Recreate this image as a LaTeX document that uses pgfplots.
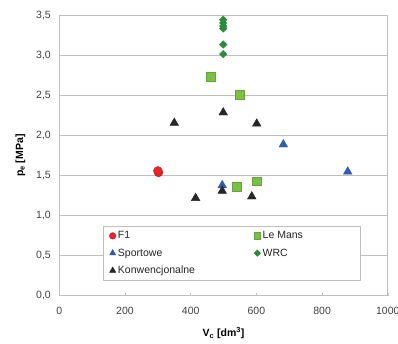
\documentclass[border=0pt]{standalone}
\usepackage{fontspec}
\setmainfont{Liberation Sans}
\usepackage{pgfplots}
\pgfplotsset{compat=1.18}

\definecolor{gridgray}{RGB}{190,190,190}
\definecolor{fone}{RGB}{232,38,42}
\definecolor{sport}{RGB}{46,92,172}
\definecolor{lemans}{RGB}{122,192,68}
\definecolor{wrc}{RGB}{42,140,58}
\definecolor{konw}{RGB}{38,38,38}

\newcommand{\colA}[1]{\makebox[134pt][l]{#1}}
\newcommand{\colB}[1]{\makebox[90pt][l]{#1}}

\begin{document}
\begin{tikzpicture}
\begin{axis}[
    scale only axis,
    width=328.5pt, height=280pt,
    xmin=0, xmax=1000, ymin=0, ymax=3.5,
    xtick={0,200,...,1000},
    ytick={0,0.5,...,3.5},
    ymajorgrids, grid style={gridgray, line width=0.8pt},
    axis line style={gridgray, line width=0.8pt},
    tick style={gridgray, line width=0.6pt},
    xtick pos=bottom, ytick pos=left,
    xtick align=inside, ytick align=inside,
    major tick length=3pt,
    ytick style={draw=none},
    /pgf/number format/assume math mode=true,
    ticklabel style={font=\fontsize{10.5}{12}\selectfont, text=black!75},
    yticklabel style={/pgf/number format/.cd, use comma, fixed, fixed zerofill, precision=1},
    xticklabel style={/pgf/number format/.cd, fixed, 1000 sep={}},
    xticklabel shift=8pt, yticklabel shift=5pt,
    xlabel={\textbf{V\textsubscript{c} [dm\textsuperscript{3}]}},
    ylabel={\textbf{p\textsubscript{e} [MPa]}},
    label style={font=\fontsize{10.5}{12}\selectfont},
    xlabel style={at={(axis description cs:0.5,0)}, anchor=center, yshift=-37.5pt},
    ylabel style={at={(axis description cs:0,0.5)}, anchor=center, xshift=0pt, yshift=39pt},
    legend columns=2,
    legend cell align=left,
    legend style={at={(axis cs:133,0.87)}, anchor=north west,
        draw=gridgray, line width=0.8pt, inner xsep=6pt, inner ysep=3pt,
        font=\fontsize{10.5}{12}\selectfont, text=black!85,
        row sep=4.5pt},
    legend image code/.code={\draw[#1, mark size=3.3pt] plot coordinates {(0.12cm,0cm)};},
]
\addplot[only marks, mark=*, mark size=4.4pt, color=fone, mark options={draw=fone!80!black, line width=0.4pt}]
  coordinates {(302,1.54) (300,1.56)};
\addlegendentry{\colA{F1}}
\addplot[only marks, mark=square*, mark size=4.3pt, color=lemans, mark options={draw=lemans!85!black, line width=0.4pt}]
  coordinates {(461,2.74) (550,2.51) (540,1.36) (601,1.43)};
\addlegendentry{\colB{Le Mans}}
\addplot[only marks, mark=triangle*, mark size=5pt, color=sport]
  coordinates {(682,1.89) (878,1.55) (496,1.38)};
\addlegendentry{\colA{Sportowe}}
\addplot[only marks, mark=diamond*, mark size=3.8pt, color=wrc, mark options={line width=0.3pt, xscale=1.35}]
  coordinates {(499,3.45) (499,3.41) (499,3.37) (499,3.34) (499,3.14) (499,3.02)};
\addlegendentry{\colB{WRC}}
\addplot[only marks, mark=triangle*, mark size=5pt, color=konw]
  coordinates {(350,2.16) (415,1.22) (499,2.29) (601,2.15) (496,1.31) (586,1.24)};
\addlegendentry{\colA{Konwencjonalne}}
\end{axis}
\pgfresetboundingbox
\path[use as bounding box] (-59.3pt,-47.3pt) rectangle (338.7pt,295.7pt);
\end{tikzpicture}
\end{document}
